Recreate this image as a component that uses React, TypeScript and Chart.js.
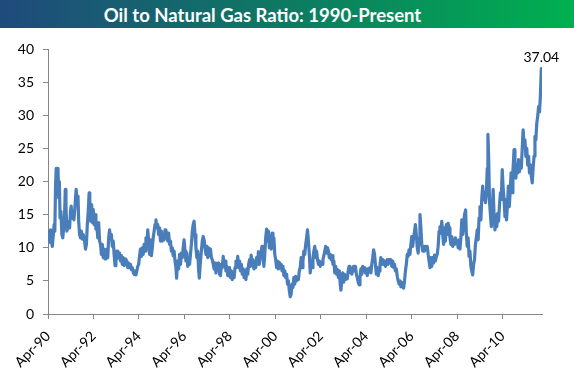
import React, { useEffect, useRef } from "react";
import { Chart, registerables } from "chart.js";

Chart.register(...registerables);

const years = [
  1990.25, 1990.29, 1990.33, 1990.37, 1990.41, 1990.44, 1990.48, 1990.52, 1990.55, 1990.58, 1990.61, 1990.65, 1990.69, 1990.72, 1990.75, 1990.78, 1990.82, 1990.86, 1990.9, 1990.94, 1990.98,
  1991.01, 1991.04, 1991.08, 1991.12, 1991.16, 1991.2, 1991.24, 1991.27, 1991.31, 1991.35, 1991.39, 1991.43, 1991.46, 1991.49, 1991.53, 1991.57, 1991.6, 1991.64, 1991.68, 1991.72, 1991.76, 1991.8, 1991.86, 1991.9, 1991.94, 1991.98,
  1992.02, 1992.06, 1992.09, 1992.13, 1992.17, 1992.21, 1992.24, 1992.28, 1992.32, 1992.36, 1992.4, 1992.44, 1992.48, 1992.52, 1992.56, 1992.6, 1992.64, 1992.68, 1992.72, 1992.76, 1992.8, 1992.84, 1992.88, 1992.92, 1992.96,
  1993.0, 1993.04, 1993.08, 1993.12, 1993.16, 1993.2, 1993.24, 1993.28, 1993.32, 1993.36, 1993.4, 1993.44, 1993.48, 1993.52, 1993.56, 1993.6, 1993.64, 1993.68, 1993.72, 1993.76, 1993.8, 1993.84, 1993.88, 1993.92, 1993.96,
  1994.0, 1994.04, 1994.08, 1994.12, 1994.16, 1994.2, 1994.24, 1994.28, 1994.32, 1994.36, 1994.4, 1994.44, 1994.48, 1994.52, 1994.56, 1994.6, 1994.64, 1994.68, 1994.72, 1994.76, 1994.8, 1994.84, 1994.88, 1994.92, 1994.96,
  1995.0, 1995.04, 1995.08, 1995.12, 1995.16, 1995.2, 1995.24, 1995.28, 1995.32, 1995.36, 1995.4, 1995.44, 1995.48, 1995.52, 1995.56, 1995.6, 1995.64, 1995.68, 1995.72, 1995.76, 1995.8, 1995.84, 1995.88, 1995.91, 1995.95,
  1996.0, 1996.04, 1996.08, 1996.12, 1996.16, 1996.2, 1996.24, 1996.28, 1996.32, 1996.36, 1996.4, 1996.44, 1996.48, 1996.52, 1996.56, 1996.6, 1996.64, 1996.68, 1996.72, 1996.76, 1996.8, 1996.84, 1996.88, 1996.91, 1996.95,
  1997.0, 1997.04, 1997.08, 1997.12, 1997.16, 1997.2, 1997.24, 1997.28, 1997.32, 1997.36, 1997.4, 1997.44, 1997.48, 1997.52, 1997.56, 1997.6, 1997.64, 1997.68, 1997.72, 1997.76, 1997.8, 1997.84, 1997.88, 1997.92, 1997.96,
  1998.0, 1998.04, 1998.08, 1998.12, 1998.16, 1998.2, 1998.24, 1998.28, 1998.32, 1998.36, 1998.4, 1998.44, 1998.48, 1998.52, 1998.56, 1998.6, 1998.64, 1998.68, 1998.72, 1998.76, 1998.8, 1998.84, 1998.88, 1998.92, 1998.96,
  1999.0, 1999.04, 1999.08, 1999.12, 1999.16, 1999.19, 1999.23, 1999.27, 1999.31, 1999.35, 1999.39, 1999.43, 1999.47, 1999.51, 1999.55, 1999.59, 1999.63, 1999.67, 1999.71, 1999.75, 1999.79, 1999.83, 1999.87, 1999.91, 1999.95, 1999.99,
  2000.03, 2000.07, 2000.11, 2000.15, 2000.19, 2000.23, 2000.27, 2000.31, 2000.35, 2000.39, 2000.43, 2000.47, 2000.51, 2000.55, 2000.59, 2000.63, 2000.67, 2000.71, 2000.75, 2000.79, 2000.83, 2000.87, 2000.91, 2000.95, 2000.99,
  2001.03, 2001.07, 2001.11, 2001.15, 2001.19, 2001.23, 2001.27, 2001.31, 2001.35, 2001.39, 2001.43, 2001.47, 2001.51, 2001.55, 2001.59, 2001.63, 2001.67, 2001.71, 2001.75, 2001.79, 2001.83, 2001.87, 2001.91, 2001.95, 2001.99,
  2002.03, 2002.07, 2002.11, 2002.15, 2002.19, 2002.23, 2002.27, 2002.31, 2002.35, 2002.39, 2002.43, 2002.47, 2002.51, 2002.55, 2002.59, 2002.63, 2002.67, 2002.71, 2002.75, 2002.79, 2002.83, 2002.87, 2002.91, 2002.95, 2002.99,
  2003.03, 2003.07, 2003.11, 2003.14, 2003.18, 2003.22, 2003.26, 2003.3, 2003.34, 2003.38, 2003.42, 2003.46, 2003.5, 2003.54, 2003.58, 2003.62, 2003.66, 2003.7, 2003.74, 2003.78, 2003.82, 2003.86, 2003.9, 2003.94, 2003.98,
  2004.02, 2004.06, 2004.1, 2004.14, 2004.18, 2004.22, 2004.26, 2004.3, 2004.34, 2004.38, 2004.42, 2004.46, 2004.5, 2004.54, 2004.58, 2004.62, 2004.66, 2004.7, 2004.74, 2004.78, 2004.82, 2004.86, 2004.9, 2004.94, 2004.98,
  2005.02, 2005.06, 2005.1, 2005.14, 2005.18, 2005.22, 2005.26, 2005.3, 2005.34, 2005.38, 2005.42, 2005.46, 2005.5, 2005.54, 2005.58, 2005.62, 2005.66, 2005.7, 2005.74, 2005.78, 2005.82, 2005.86, 2005.9, 2005.94, 2005.98,
  2006.02, 2006.06, 2006.1, 2006.14, 2006.18, 2006.22, 2006.26, 2006.3, 2006.34, 2006.38, 2006.42, 2006.46, 2006.5, 2006.54, 2006.58, 2006.62, 2006.66, 2006.7, 2006.74, 2006.78, 2006.82, 2006.86, 2006.9, 2006.94, 2006.98,
  2007.02, 2007.06, 2007.1, 2007.14, 2007.18, 2007.22, 2007.26, 2007.3, 2007.34, 2007.38, 2007.42, 2007.46, 2007.5, 2007.54, 2007.58, 2007.62, 2007.66, 2007.7, 2007.74, 2007.78, 2007.82, 2007.86, 2007.9, 2007.94, 2007.98,
  2008.02, 2008.06, 2008.1, 2008.14, 2008.18, 2008.22, 2008.26, 2008.3, 2008.34, 2008.38, 2008.42, 2008.46, 2008.5, 2008.54, 2008.58, 2008.63, 2008.66, 2008.7, 2008.74, 2008.78, 2008.82, 2008.86, 2008.9, 2008.94, 2008.98,
  2009.02, 2009.06, 2009.1, 2009.14, 2009.18, 2009.22, 2009.26, 2009.3, 2009.34, 2009.38, 2009.42, 2009.46, 2009.5, 2009.54, 2009.58, 2009.61, 2009.64, 2009.68, 2009.72, 2009.76, 2009.8, 2009.84, 2009.88, 2009.92, 2009.96,
  2010.0, 2010.04, 2010.08, 2010.12, 2010.16, 2010.2, 2010.24, 2010.28, 2010.32, 2010.36, 2010.4, 2010.43, 2010.47, 2010.51, 2010.55, 2010.59, 2010.63, 2010.67, 2010.71, 2010.76, 2010.8, 2010.84, 2010.88, 2010.92, 2010.96,
  2011.0, 2011.04, 2011.08, 2011.12, 2011.16, 2011.2, 2011.24, 2011.28, 2011.32, 2011.36, 2011.4, 2011.44, 2011.48, 2011.52, 2011.56, 2011.6, 2011.64, 2011.68, 2011.72, 2011.76, 2011.8, 2011.84, 2011.88, 2011.92, 2011.96,
];

const ratio = [
  11.5, 12.5, 10.8, 12.7, 11.0, 10.2, 11.8, 13.5, 12.5, 19.0, 22.0, 21.0, 22.0, 17.5, 20.0, 14.5, 15.5, 12.0, 11.5, 13.0, 15.0,
  18.8, 16.5, 12.5, 13.0, 14.0, 13.0, 15.5, 16.3, 14.5, 15.5, 14.2, 15.8, 17.5, 18.8, 16.5, 17.8, 14.0, 12.0, 11.5, 12.5, 11.3, 12.0, 11.0, 9.8, 10.5, 13.5,
  15.5, 18.3, 17.0, 14.0, 16.5, 13.8, 15.8, 13.5, 15.0, 12.8, 13.5, 11.5, 13.8, 11.0, 10.5, 9.0, 10.5, 8.5, 9.8, 8.3, 9.5, 9.8, 8.5, 11.5, 12.7,
  11.5, 12.0, 10.2, 11.0, 9.0, 7.3, 9.5, 8.3, 9.5, 8.5, 9.2, 8.0, 8.8, 7.5, 8.5, 7.3, 8.3, 7.5, 8.0, 7.0, 7.7, 7.0, 7.5, 6.7, 7.0,
  6.3, 6.0, 6.5, 5.9, 6.5, 7.2, 7.5, 8.8, 9.8, 8.7, 10.0, 9.0, 10.5, 9.5, 11.5, 10.5, 12.7, 11.0, 9.0, 11.2, 8.8, 10.0, 11.5, 12.5, 13.5,
  14.2, 13.0, 13.5, 12.0, 13.0, 11.0, 12.5, 11.0, 12.0, 11.2, 12.7, 11.5, 12.3, 11.0, 12.2, 10.5, 11.0, 9.5, 10.0, 8.8, 9.5, 8.0, 7.0, 5.4, 8.0,
  6.8, 9.0, 7.5, 9.2, 8.5, 10.0, 11.2, 9.5, 8.0, 9.2, 7.2, 8.5, 7.5, 9.0, 10.5, 12.5, 13.5, 14.0, 12.0, 10.0, 8.5, 9.5, 6.5, 5.4, 7.5,
  9.5, 11.0, 11.7, 11.2, 10.0, 9.0, 10.2, 8.5, 10.0, 8.8, 9.8, 8.5, 8.2, 7.5, 6.8, 7.7, 6.2, 7.5, 6.8, 7.7, 6.0, 5.8, 7.5, 7.0, 8.7,
  7.5, 8.0, 6.5, 7.2, 5.8, 6.5, 7.0, 5.5, 6.5, 5.2, 6.2, 5.5, 7.0, 8.0, 7.2, 8.7, 7.0, 8.0, 6.5, 7.5, 6.0, 6.8, 5.5, 6.5, 5.2,
  6.8, 6.0, 7.5, 8.2, 7.2, 8.9, 7.5, 8.2, 6.8, 7.8, 7.0, 8.5, 7.5, 9.4, 7.5, 8.5, 9.5, 10.2, 9.0, 7.2, 9.0, 11.5, 12.8, 11.0, 12.5, 10.0,
  11.7, 9.8, 12.2, 10.0, 11.5, 9.0, 8.2, 7.0, 8.0, 6.8, 7.8, 7.0, 7.5, 6.5, 7.2, 5.8, 6.5, 5.5, 6.0, 4.5, 5.0, 3.5, 2.6, 3.0, 4.5,
  4.0, 5.5, 4.5, 5.7, 5.0, 5.5, 5.2, 6.5, 7.0, 8.5, 7.0, 8.0, 9.5, 9.0, 10.5, 11.5, 12.7, 11.0, 9.0, 6.2, 8.0, 7.0, 8.5, 9.5, 10.2,
  8.5, 9.5, 8.2, 7.5, 8.0, 7.2, 7.8, 7.5, 8.2, 8.8, 9.5, 10.2, 9.2, 10.0, 9.5, 8.5, 9.0, 8.2, 8.8, 7.5, 8.0, 6.2, 7.2, 6.0, 6.7,
  5.5, 6.5, 4.5, 3.6, 5.0, 6.2, 4.8, 6.0, 5.2, 5.8, 5.3, 6.5, 7.2, 6.3, 6.8, 6.0, 6.8, 7.2, 6.5, 7.2, 6.0, 5.5, 4.8, 4.4, 5.5,
  6.8, 6.0, 7.2, 6.5, 7.0, 6.2, 6.8, 5.8, 6.8, 6.5, 7.0, 6.2, 7.5, 8.5, 9.7, 9.0, 7.5, 6.0, 7.0, 5.8, 6.5, 7.5, 8.5, 7.5, 8.2,
  7.5, 8.0, 7.2, 7.8, 8.2, 7.5, 8.2, 7.8, 8.2, 7.2, 8.0, 7.0, 7.5, 6.5, 6.8, 5.7, 5.0, 4.5, 5.0, 4.1, 4.8, 4.2, 3.9, 5.0, 6.5,
  7.5, 9.0, 8.7, 9.7, 9.0, 10.5, 11.7, 10.2, 11.5, 12.5, 13.5, 12.0, 10.0, 9.2, 11.5, 15.0, 13.0, 10.5, 9.5, 10.2, 9.5, 10.2, 9.8, 10.2, 9.0,
  8.0, 7.0, 8.5, 7.2, 8.5, 7.7, 8.9, 8.0, 8.7, 9.0, 10.2, 12.5, 13.2, 12.2, 14.0, 12.0, 10.5, 13.0, 11.0, 13.5, 12.0, 13.7, 13.0, 11.5, 10.5,
  11.7, 10.2, 11.0, 10.5, 11.5, 10.8, 11.0, 10.0, 11.2, 9.8, 11.5, 14.2, 12.0, 13.5, 15.0, 15.7, 12.2, 10.2, 11.5, 8.7, 9.5, 7.2, 6.5, 5.9, 7.5,
  8.2, 10.5, 11.5, 12.7, 11.2, 14.5, 16.2, 14.2, 17.5, 19.3, 17.3, 18.3, 16.8, 18.0, 22.0, 27.1, 24.0, 17.0, 15.0, 13.2, 15.5, 18.8, 15.0, 12.7, 14.0,
  13.2, 15.2, 14.0, 16.5, 18.3, 17.3, 21.8, 19.0, 17.3, 14.7, 16.0, 14.2, 16.5, 19.3, 16.2, 18.5, 21.3, 18.3, 21.5, 24.8, 22.0, 20.5, 22.5, 21.3, 23.3,
  21.5, 23.0, 22.0, 25.0, 27.8, 25.5, 26.3, 23.8, 25.0, 22.5, 23.8, 21.3, 22.5, 20.8, 19.8, 22.0, 23.8, 26.8, 26.3, 28.8, 29.8, 31.3, 30.5, 33.0, 37.04,
];

const tickYears = [1990.25, 1992.25, 1994.25, 1996.25, 1998.25, 2000.25, 2002.25, 2004.25, 2006.25, 2008.25, 2010.25];
const tickLabels = ["Apr-90", "Apr-92", "Apr-94", "Apr-96", "Apr-98", "Apr-00", "Apr-02", "Apr-04", "Apr-06", "Apr-08", "Apr-10"];

const titleText = "Oil to Natural Gas Ratio: 1990-Present";
const FONT = 'Lato, "Open Sans", "DejaVu Sans", sans-serif';

const lastLabelPlugin = {
  id: "lastLabel",
  afterDatasetsDraw(chart: any) {
    const meta = chart.getDatasetMeta(0);
    const pt = meta.data[meta.data.length - 1];
    if (!pt) return;
    const ctx = chart.ctx;
    ctx.save();
    ctx.font = `14px ${FONT}`;
    ctx.fillStyle = "#000";
    ctx.textAlign = "center";
    ctx.textBaseline = "alphabetic";
    ctx.fillText(ratio[ratio.length - 1].toFixed(2), pt.x, pt.y - 7);
    ctx.restore();
  },
};

export default function App() {
  const ref = useRef<HTMLCanvasElement>(null);
  useEffect(() => {
    document.body.style.margin = "0";
    Chart.defaults.font.family = FONT;
    const chart = new Chart(ref.current as HTMLCanvasElement, {
      type: "line",
      data: {
        datasets: [
          {
            data: years.map((x, i) => ({ x, y: ratio[i] })),
            borderColor: "#4a7ebb",
            borderWidth: 3.2,
            pointRadius: 0,
            tension: 0,
            fill: false,
            borderJoinStyle: "round",
            borderCapStyle: "round",
          },
        ],
      },
      options: {
        animation: false,
        responsive: true,
        maintainAspectRatio: false,
        layout: { padding: { top: 21, right: 32, left: 0, bottom: 0 } },
        plugins: { legend: { display: false }, tooltip: { enabled: false }, title: { display: false } },
        scales: {
          x: {
            type: "linear",
            min: 1990.25,
            max: 2011.99,
            afterBuildTicks: (axis: any) => {
              axis.ticks = tickYears.map((value) => ({ value }));
            },
            afterFit: (s: any) => {
              s.height = 58;
            },
            grid: { drawOnChartArea: false, drawTicks: true, tickLength: 5, color: "#868686" },
            border: { color: "#868686", width: 1 },
            ticks: {
              autoSkip: false,
              minRotation: 45,
              maxRotation: 45,
              color: "#000",
              font: { size: 14 },
              padding: 9,
              callback: (_v: any, i: number) => tickLabels[i],
            },
          },
          y: {
            min: 0,
            max: 40,
            afterFit: (s: any) => {
              s.width = 48;
            },
            grid: { drawOnChartArea: false, drawTicks: true, tickLength: 5, color: "#868686" },
            border: { color: "#868686", width: 1 },
            ticks: { stepSize: 5, color: "#000", font: { size: 14 }, padding: 9 },
          },
        },
      } as any,
      plugins: [lastLabelPlugin],
    });
    return () => chart.destroy();
  }, []);

  return (
    <div style={{ width: 574, height: 372, background: "#fff", position: "relative", overflow: "hidden" }}>
      <div
        style={{
          height: 28,
          background: "linear-gradient(to right, #1f4a7c, #0d7a62 50%, #00b050)",
          color: "#fff",
          fontFamily: FONT,
          fontWeight: 700,
          fontSize: 18.5,
          lineHeight: "30px",
          textAlign: "center",
          paddingRight: 49,
          boxSizing: "border-box",
          whiteSpace: "nowrap",
        }}
      >
        {titleText}
      </div>
      <div style={{ position: "relative", width: 574, height: 344 }}>
        <canvas ref={ref} />
      </div>
    </div>
  );
}
